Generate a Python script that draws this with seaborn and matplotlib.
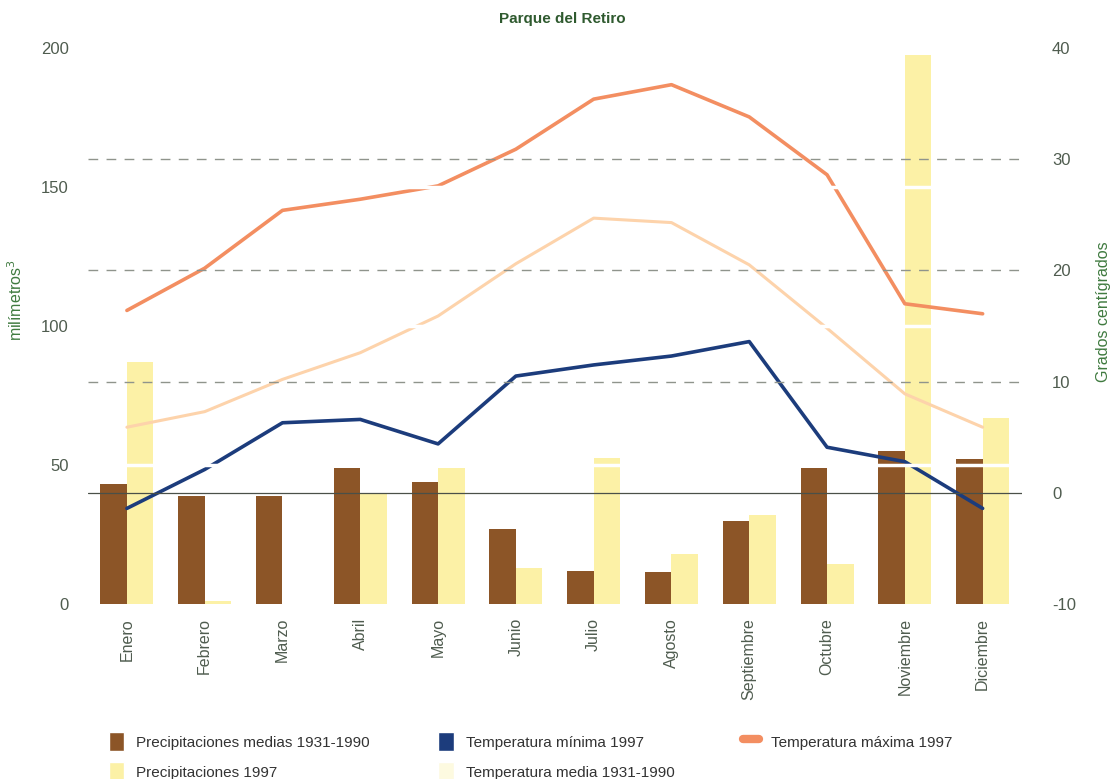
import matplotlib
matplotlib.use('Agg')
import matplotlib.pyplot as plt
from matplotlib.patches import Patch
from matplotlib.lines import Line2D
import numpy as np
import pandas as pd
import seaborn as sns

meses = ['Enero', 'Febrero', 'Marzo', 'Abril', 'Mayo', 'Junio', 'Julio',
         'Agosto', 'Septiembre', 'Octubre', 'Noviembre', 'Diciembre']

# precipitation (mm) - left axis
prec_medias = [43, 39, 39, 49, 44, 27, 12, 11.5, 30, 49, 55, 52]
prec_1997 = [87, 1, 0, 40, 49, 13, 52.5, 18, 32, 14.5, 197.5, 67]

# temperatures (C) - right axis
t_max_1997 = [16.4, 20.2, 25.4, 26.4, 27.6, 30.9, 35.4, 36.7, 33.8, 28.6, 17.0, 16.1]
t_media = [5.9, 7.3, 10.2, 12.6, 15.9, 20.6, 24.7, 24.3, 20.5, 14.8, 8.9, 5.9]
t_min_1997 = [-1.4, 2.1, 6.3, 6.6, 4.4, 10.5, 11.5, 12.3, 13.6, 4.1, 2.8, -1.4]

sns.set_style('white')
plt.rcParams['font.family'] = ['Liberation Sans', 'DejaVu Sans']
plt.rcParams['axes.unicode_minus'] = False

c_brown = '#8c5527'
c_yellow = '#fcf1a6'
c_orange = '#f38e61'
c_peach = '#fdd3ab'
c_blue = '#1c3c7c'
c_text = '#4f5c4f'
c_green = '#3f7a3f'

df_bar = pd.DataFrame({
    'mes': meses * 2,
    'mm': prec_medias + prec_1997,
    'serie': ['Precipitaciones medias 1931-1990'] * 12 + ['Precipitaciones 1997'] * 12,
})

fig = plt.figure(figsize=(11.14, 7.79), dpi=100)
ax = fig.add_axes([0.079, 0.2246, 0.838, 0.7138])

sns.barplot(data=df_bar, x='mes', y='mm', hue='serie', order=meses,
            palette=[c_brown, c_yellow], saturation=1, width=0.68,
            ax=ax, legend=False, edgecolor='none')
ax.set_xlim(-0.5, 11.5)
ax.set_ylim(0, 200)
ax.set_yticks([0, 50, 100, 150, 200])
ax.set_xlabel('')
ax.set_ylabel('')
ax.tick_params(axis='y', length=0, pad=14, labelsize=12, labelcolor=c_text)
ax.set_xticks(range(12))
ax.set_xticklabels(meses, rotation=90, fontsize=11.5, color=c_text)
ax.set_xticks(np.arange(-0.5, 12, 1), minor=True)
ax.tick_params(axis='x', which='major', length=0, pad=10)
ax.tick_params(axis='x', which='minor', length=9, width=1, color='#9a9a9a', direction='out')
for s in ax.spines.values():
    s.set_visible(False)

ax2 = ax.twinx()
ax2.set_ylim(-10, 40)
ax2.set_yticks([-10, 0, 10, 20, 30, 40])
ax2.tick_params(axis='y', length=0, pad=22, labelsize=12, labelcolor=c_text)
for s in ax2.spines.values():
    s.set_visible(False)

x = np.arange(len(meses))
sns.lineplot(x=x, y=t_media, color=c_peach, lw=2.2, ax=ax2, zorder=3)
sns.lineplot(x=x, y=t_max_1997, color=c_orange, lw=2.6, ax=ax2, zorder=4)
sns.lineplot(x=x, y=t_min_1997, color=c_blue, lw=2.6, ax=ax2, zorder=4)

# reference lines
for t in [10, 20, 30]:
    ax2.axhline(t, color='#8f948c', lw=1, ls=(0, (7, 6)), zorder=5)
ax2.axhline(0, color='#4a5048', lw=0.9, zorder=5)
# white gaps printed across the bars
for mm in [50, 100, 150]:
    ax2.axhline(mm / 4 - 10, color='white', lw=2.5, zorder=6)

fig.text(0.505, 0.975, 'Parque del Retiro', ha='center', va='center',
         fontsize=11, fontweight='bold', color='#2f5a2f')
fig.text(0.014, 0.615, 'milímetros$^3$', rotation=90, ha='center', va='center',
         fontsize=11.5, color=c_green)
fig.text(0.991, 0.60, 'Grados centígrados', rotation=90, ha='center', va='center',
         fontsize=11.5, color=c_green)

handles = [
    Patch(facecolor=c_brown, label='Precipitaciones medias 1931-1990'),
    Patch(facecolor=c_yellow, label='Precipitaciones 1997'),
    Patch(facecolor=c_blue, label='Temperatura mínima 1997'),
    Patch(facecolor='#fdfae0', label='Temperatura media 1931-1990'),
    Line2D([], [], color=c_orange, lw=6, label='Temperatura máxima 1997'),
]
leg = fig.legend(handles=handles, loc='upper left', bbox_to_anchor=(0.092, 0.068),
                 ncol=3, frameon=False, fontsize=11, handlelength=1.0,
                 handleheight=1.5, columnspacing=4.5, labelspacing=0.75,
                 handletextpad=0.8, borderaxespad=0)
for t in leg.get_texts():
    t.set_color('#333333')

fig.savefig('out.png', dpi=100)
